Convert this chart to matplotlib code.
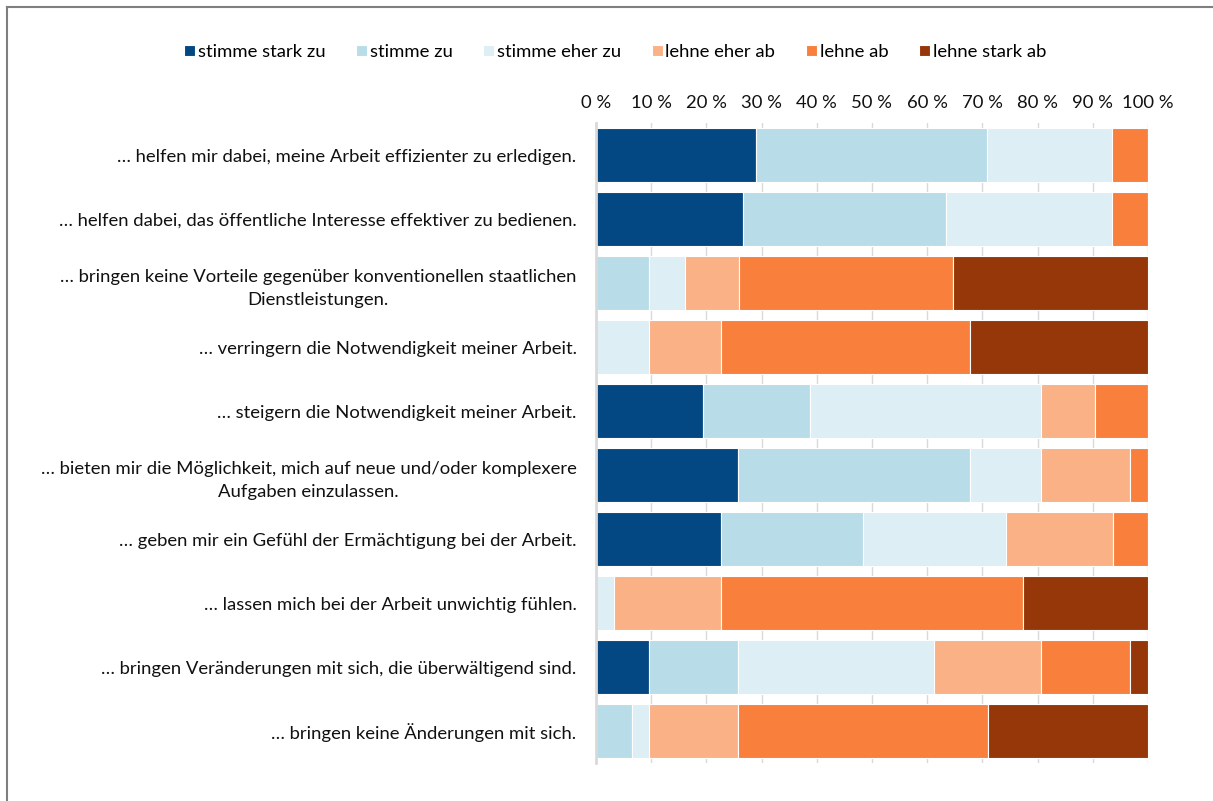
import matplotlib.pyplot as plt
import numpy as np

plt.rcParams['font.family'] = ['Lato', 'DejaVu Sans']

# data
categories = [
    '… helfen mir dabei, meine Arbeit effizienter zu erledigen.',
    '… helfen dabei, das öffentliche Interesse effektiver zu bedienen.',
    '… bringen keine Vorteile gegenüber konventionellen staatlichen\nDienstleistungen.',
    '… verringern die Notwendigkeit meiner Arbeit.',
    '… steigern die Notwendigkeit meiner Arbeit.',
    '… bieten mir die Möglichkeit, mich auf neue und/oder komplexere\nAufgaben einzulassen.',
    '… geben mir ein Gefühl der Ermächtigung bei der Arbeit.',
    '… lassen mich bei der Arbeit unwichtig fühlen.',
    '… bringen Veränderungen mit sich, die überwältigend sind.',
    '… bringen keine Änderungen mit sich.',
]
series = ['stimme stark zu', 'stimme zu', 'stimme eher zu',
          'lehne eher ab', 'lehne ab', 'lehne stark ab']
colors = ['#034783', '#b9dde8', '#ddeef5', '#fbb186', '#f9803c', '#953708']

stimme_stark_zu = [29.0, 26.7, 0.0, 0.0, 19.4, 25.8, 22.6, 0.0, 9.7, 0.0]
stimme_zu       = [41.9, 36.7, 9.7, 0.0, 19.4, 41.9, 25.8, 0.0, 16.1, 6.5]
stimme_eher_zu  = [22.6, 30.0, 6.5, 9.7, 41.9, 12.9, 25.8, 3.2, 35.5, 3.2]
lehne_eher_ab   = [0.0, 0.0, 9.7, 12.9, 9.7, 16.1, 19.4, 19.4, 19.4, 16.1]
lehne_ab        = [6.5, 6.6, 38.7, 45.2, 9.6, 3.3, 6.4, 54.8, 16.1, 45.2]
lehne_stark_ab  = [0.0, 0.0, 35.4, 32.2, 0.0, 0.0, 0.0, 22.6, 3.2, 29.0]

values = [stimme_stark_zu, stimme_zu, stimme_eher_zu,
          lehne_eher_ab, lehne_ab, lehne_stark_ab]

fs = 13.3
txt = '#111111'

# figure
fig = plt.figure(figsize=(12.13, 8.01), dpi=100)
ax = fig.add_axes([0.4913, 0.0474, 0.4551, 0.799])

y = np.arange(len(categories))
left = np.zeros(len(categories))
handles = []
for name, vals, col in zip(series, values, colors):
    vals = np.array(vals)
    b = ax.barh(y, vals, left=left, height=0.83, color=col,
                edgecolor='white', linewidth=0.8, label=name, zorder=3)
    handles.append(b)
    left += vals

ax.set_ylim(len(categories) - 0.5, -0.5)
ax.set_xlim(0, 100)
ax.set_xticks(np.arange(0, 101, 10))
ax.set_xticklabels([f'{t} %' for t in range(0, 101, 10)])
ax.xaxis.tick_top()
ax.tick_params(axis='x', length=0, labelsize=fs, colors=txt, pad=9)
ax.set_yticks(y)
ax.set_yticklabels(categories, fontsize=fs, color=txt,
                   multialignment='center', linespacing=1.55)
ax.tick_params(axis='y', length=0, pad=14)

ax.grid(axis='x', color='#d9d9d9', linewidth=1, zorder=0)
for s in ['top', 'right', 'bottom']:
    ax.spines[s].set_visible(False)
ax.spines['left'].set_color('#d9d9d9')
ax.spines['left'].set_linewidth(2)
ax.spines['left'].set_zorder(4)

# legend
fig.legend(handles=handles, labels=series, loc='center', ncol=6,
           bbox_to_anchor=(0.507, 0.935), frameon=False, fontsize=fs,
           handlelength=0.6, handleheight=0.6, handletextpad=0.15,
           columnspacing=1.65)

# outer border (only top and left visible)
fig.add_artist(plt.Line2D([0.0058, 0.0058], [0.0, 0.9916],
                          transform=fig.transFigure, color='#7f7f7f', linewidth=1.5))
fig.add_artist(plt.Line2D([0.0058, 1.0], [0.9916, 0.9916],
                          transform=fig.transFigure, color='#7f7f7f', linewidth=1.5))

fig.savefig('out.png', dpi=100)
